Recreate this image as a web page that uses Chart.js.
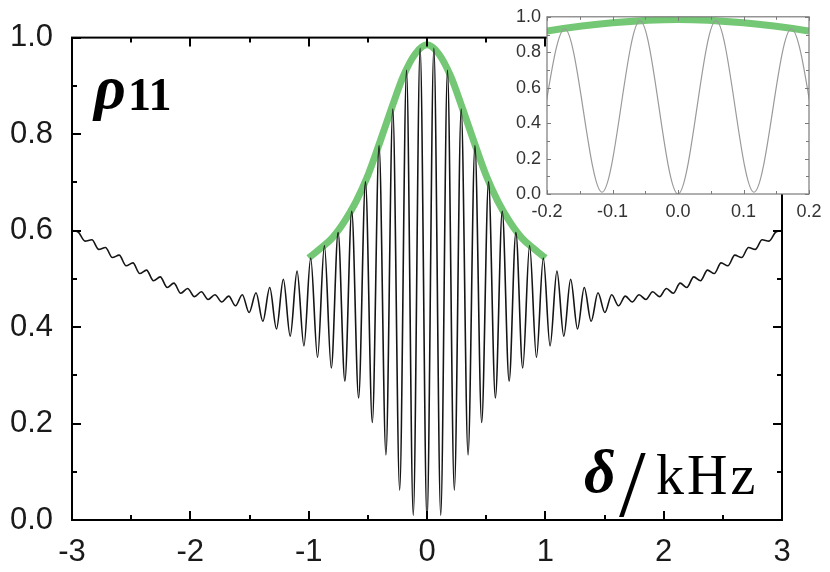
<!DOCTYPE html>
<html><head><meta charset="utf-8">
<script src="https://cdn.jsdelivr.net/npm/chart.js@4/dist/chart.umd.min.js"></script>
<style>
html,body{margin:0;padding:0;background:#fff;}
#wrap{position:relative;width:830px;height:572px;overflow:hidden;background:#fff;}
#main{position:absolute;left:0;top:0;width:830px;height:572px;}
#inset{position:absolute;left:490px;top:0;width:340px;height:240px;}
#txt{position:absolute;left:0;top:0;pointer-events:none;}
</style></head><body>
<div id="wrap">
<canvas id="main" width="830" height="572"></canvas>
<canvas id="inset" width="340" height="240"></canvas>
<svg id="txt" width="830" height="572" xmlns="http://www.w3.org/2000/svg">
  <text x="94" y="108" font-family="Liberation Serif" font-weight="bold" font-style="italic" font-size="62" fill="#000">ρ<tspan font-style="normal" font-size="46" dx="2" dy="2">11</tspan></text>
  <text x="584" y="492" font-family="Liberation Serif" font-weight="bold" font-style="italic" font-size="62" fill="#000">δ</text>
  <text x="619" y="516" font-family="Liberation Serif" font-size="96" fill="#000">/</text>
  <text x="656" y="494" font-family="Liberation Serif" font-size="56" fill="#000" letter-spacing="3">kHz</text>
</svg>
</div>
<script>
// detuning (kHz) of the fringe extrema
const deltaKHz = [-3.0,-2.948,-2.890,-2.832,-2.774,-2.717,-2.659,-2.601,-2.543,-2.485,-2.428,-2.370,-2.312,-2.254,-2.196,-2.139,-2.081,-2.023,-1.965,-1.907,-1.850,-1.792,-1.734,-1.676,-1.618,-1.561,-1.503,-1.445,-1.387,-1.329,-1.272,-1.214,-1.156,-1.098,-1.040,-0.983,-0.925,-0.867,-0.809,-0.751,-0.694,-0.636,-0.578,-0.520,-0.462,-0.405,-0.347,-0.289,-0.231,-0.173,-0.116,-0.058,
0,
0.058,0.116,0.173,0.231,0.289,0.347,0.405,0.462,0.520,0.578,0.636,0.694,0.751,0.809,0.867,0.925,0.983,1.040,1.098,1.156,1.214,1.272,1.329,1.387,1.445,1.503,1.561,1.618,1.676,1.734,1.792,1.850,1.907,1.965,2.023,2.081,2.139,2.196,2.254,2.312,2.370,2.428,2.485,2.543,2.601,2.659,2.717,2.774,2.832,2.890,2.948,3.0];
// rho_11 at those points
const rho11 = [0.600,0.597,0.578,0.581,0.561,0.565,0.544,0.549,0.527,0.533,0.511,0.518,0.496,0.504,0.482,0.491,0.470,0.480,0.463,0.473,0.457,0.467,0.452,0.464,0.444,0.467,0.430,0.471,0.412,0.482,0.396,0.499,0.381,0.516,0.361,0.543,0.337,0.569,0.315,0.596,0.288,0.640,0.253,0.701,0.202,0.776,0.135,0.852,0.062,0.932,0.010,0.978,
0.000,
0.978,0.010,0.932,0.062,0.852,0.135,0.776,0.202,0.701,0.253,0.640,0.288,0.596,0.315,0.569,0.337,0.543,0.361,0.516,0.381,0.499,0.396,0.482,0.412,0.471,0.430,0.467,0.444,0.464,0.452,0.467,0.457,0.473,0.463,0.480,0.470,0.491,0.482,0.504,0.496,0.518,0.511,0.533,0.527,0.549,0.544,0.565,0.561,0.581,0.578,0.597,0.600];
// green envelope
const envDelta = [-1.0,-0.9,-0.8,-0.7,-0.6,-0.5,-0.4,-0.3,-0.2,-0.1,0,0.1,0.2,0.3,0.4,0.5,0.6,0.7,0.8,0.9,1.0];
const envRho   = [0.543,0.563,0.585,0.618,0.660,0.714,0.782,0.853,0.920,0.966,0.985,0.966,0.920,0.853,0.782,0.714,0.660,0.618,0.585,0.563,0.543];
// tick marks
const mainXMinor = [-2.5,-1.5,-0.5,0.5,1.5,2.5];
const mainYMinor = [0.1,0.3,0.5,0.7,0.9];
const insetXMinor = [-0.15,-0.05,0.05,0.15];
const insetYMinor = [0.1,0.3,0.5,0.7,0.9];

const curve = deltaKHz.map((x,i)=>({x:x,y:rho11[i]}));
const env = envDelta.map((x,i)=>({x:x,y:envRho[i]}));

function frameTicks(o){
  return {id:'frameTicks', afterDatasetsDraw(chart){
    const ctx=chart.ctx, a=chart.chartArea, xs=chart.scales.x, ys=chart.scales.y;
    ctx.save();
    ctx.strokeStyle=o.color; ctx.lineWidth=o.lw; ctx.lineCap='butt';
    const xt = xs.ticks.map(t=>[t.value,o.major]).concat(o.xMinor.map(v=>[v,o.minor]));
    const yt = ys.ticks.map(t=>[t.value,o.major]).concat(o.yMinor.map(v=>[v,o.minor]));
    ctx.beginPath();
    xt.forEach(([v,l])=>{const p=Math.round(xs.getPixelForValue(v))+0.5*(o.lw%2);
      ctx.moveTo(p,a.bottom); ctx.lineTo(p,a.bottom-l);
      ctx.moveTo(p,a.top); ctx.lineTo(p,a.top+l);});
    yt.forEach(([v,l])=>{const p=Math.round(ys.getPixelForValue(v))+0.5*(o.lw%2);
      ctx.moveTo(a.left,p); ctx.lineTo(a.left+l,p);
      ctx.moveTo(a.right,p); ctx.lineTo(a.right-l,p);});
    ctx.stroke();
    ctx.lineWidth=o.frame;
    ctx.strokeRect(a.left,a.top,a.right-a.left,a.bottom-a.top);
    ctx.restore();
  }};
}
const whiteArea = {id:'whiteArea', beforeDatasetsDraw(chart){
  const ctx=chart.ctx,a=chart.chartArea; ctx.save(); ctx.fillStyle='#fff';
  ctx.fillRect(a.left,a.top,a.right-a.left,a.bottom-a.top); ctx.restore();}};

function fmt1(v){ return Math.abs(v)<1e-9 ? '0.0' : v.toFixed(1); }

new Chart(document.getElementById('main'),{
  type:'line',
  data:{datasets:[
    {data:curve, borderColor:'#151515', borderWidth:1.6, pointRadius:0, cubicInterpolationMode:'monotone', fill:false},
    {data:env, borderColor:'rgba(104,194,104,0.92)', borderWidth:7, pointRadius:0, cubicInterpolationMode:'monotone', fill:false}
  ]},
  options:{
    responsive:false, animation:false, devicePixelRatio:1,
    layout:{padding:{top:26,right:48,left:0,bottom:0}},
    plugins:{legend:{display:false}, tooltip:{enabled:false}},
    scales:{
      x:{type:'linear', min:-3, max:3, grid:{display:false, drawTicks:false}, border:{display:false},
         ticks:{stepSize:1, color:'#1a1a1a', padding:14, font:{family:'Liberation Sans', size:31}, callback:v=>String(Math.round(v)), maxRotation:0},
         afterFit(s){s.height=52;}},
      y:{type:'linear', min:0, max:1, grid:{display:false, drawTicks:false}, border:{display:false},
         ticks:{stepSize:0.2, color:'#1a1a1a', padding:19, font:{family:'Liberation Sans', size:31}, callback:v=>fmt1(v)},
         afterFit(s){s.width=72;}}
    }
  },
  plugins:[frameTicks({color:'#000', lw:2, frame:2, major:9, minor:5, xMinor:mainXMinor, yMinor:mainYMinor})]
});

new Chart(document.getElementById('inset'),{
  type:'line',
  data:{datasets:[
    {data:curve, borderColor:'#9a9a9a', borderWidth:1.2, pointRadius:0, cubicInterpolationMode:'monotone', fill:false},
    {data:env, borderColor:'rgba(104,194,104,0.92)', borderWidth:7, pointRadius:0, cubicInterpolationMode:'monotone', fill:false}
  ]},
  options:{
    responsive:false, animation:false, devicePixelRatio:1,
    layout:{padding:{top:12,right:21,left:0,bottom:0}},
    plugins:{legend:{display:false}, tooltip:{enabled:false}},
    scales:{
      x:{type:'linear', min:-0.2, max:0.2, grid:{display:false, drawTicks:false}, border:{display:false},
         ticks:{stepSize:0.1, color:'#333', padding:7, font:{family:'Liberation Sans', size:18}, callback:v=>fmt1(v), maxRotation:0},
         afterFit(s){s.height=46;}},
      y:{type:'linear', min:0, max:1, grid:{display:false, drawTicks:false}, border:{display:false},
         ticks:{stepSize:0.2, color:'#333', padding:6, font:{family:'Liberation Sans', size:18}, callback:v=>fmt1(v)},
         afterFit(s){s.width=57;}}
    }
  },
  plugins:[whiteArea, frameTicks({color:'#7a7a7a', lw:1, frame:1.2, major:4, minor:3, xMinor:insetXMinor, yMinor:insetYMinor})]
});
</script>
</body></html>
